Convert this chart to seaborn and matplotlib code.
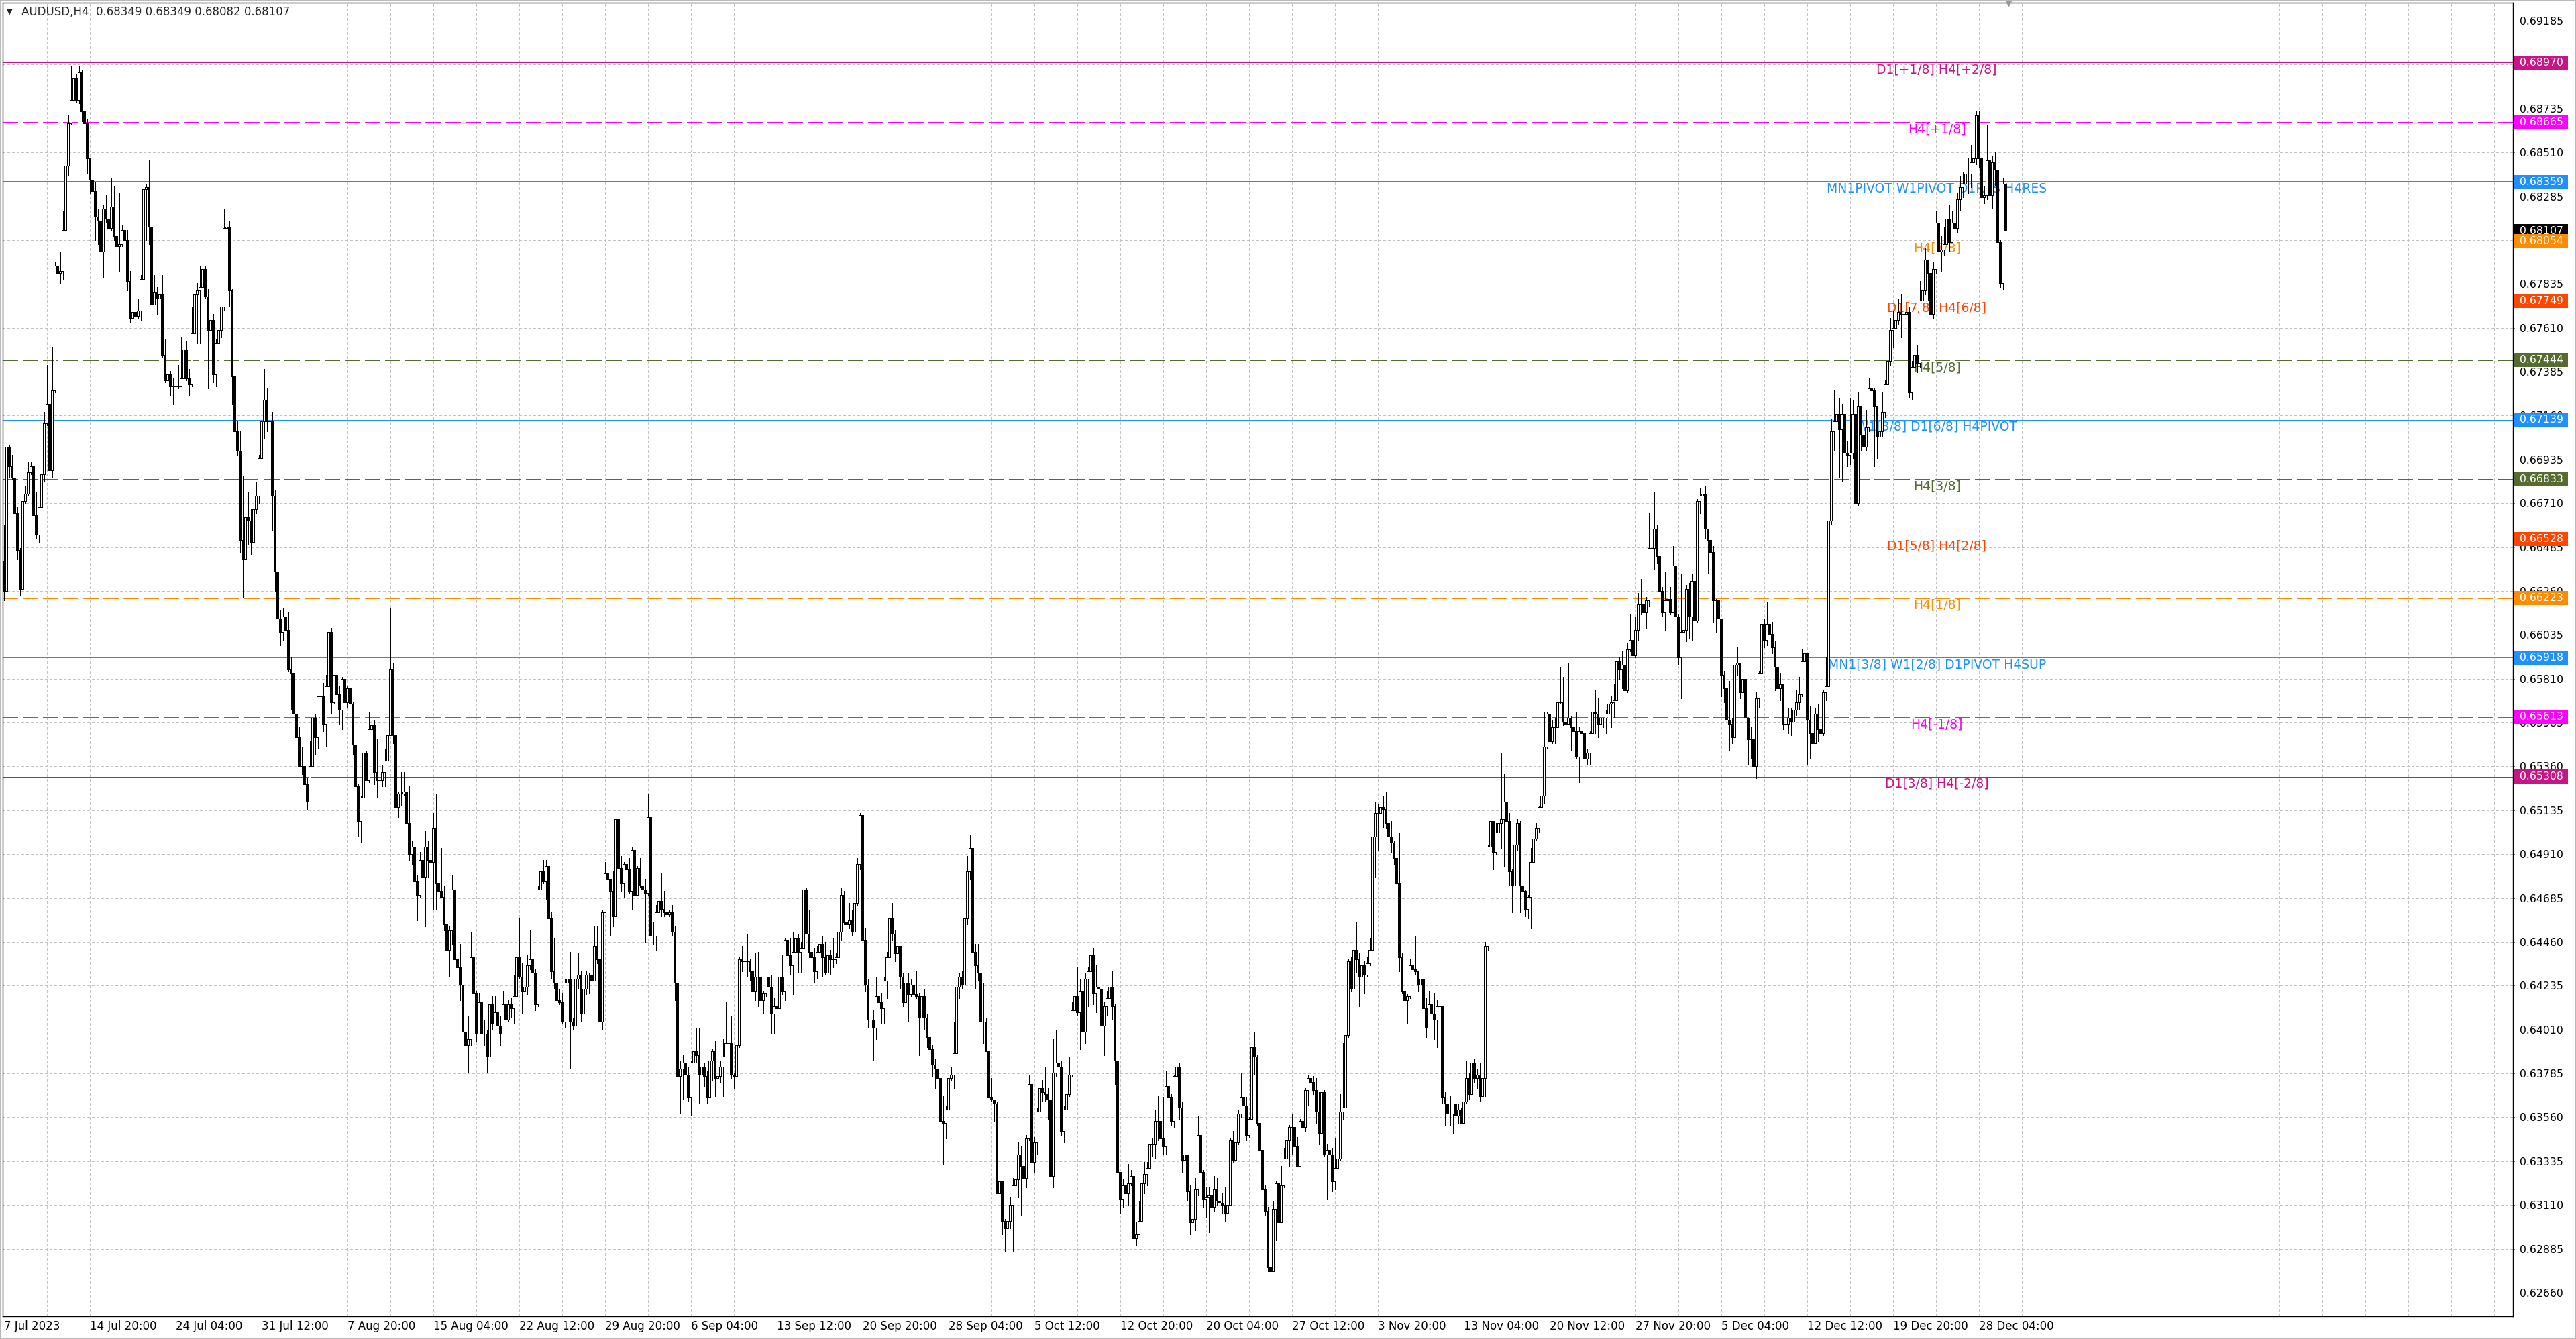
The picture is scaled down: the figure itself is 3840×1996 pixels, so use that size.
import matplotlib
matplotlib.use("Agg")
import matplotlib.pyplot as plt
import matplotlib.transforms as mtransforms
from matplotlib.patches import Rectangle
import numpy as np
import seaborn as sns

SYMBOL = "AUDUSD"
TIMEFRAME = "H4"
LAST_OHLC = [0.68349, 0.68349, 0.68082, 0.68107]
BID = 0.68107

# H4 candles, in pips (1e-4). Each bar opens at the previous close.
FIRST_OPEN = 6641
CLOSE = [
    6626, 6700, 6690, 6684, 6666, 6647, 6627, 6672, 6676, 6687, 6690, 6665, 6655, 6669, 6686, 6712, 6722, 6688, 6729, 6793,
    6789, 6790, 6811, 6844, 6866, 6878, 6889, 6878, 6892, 6872, 6866, 6848, 6837, 6831, 6818, 6816, 6800, 6822, 6817, 6812,
    6823, 6808, 6803, 6804, 6811, 6806, 6785, 6766, 6769, 6767, 6770, 6786, 6832, 6833, 6813, 6773, 6779, 6776, 6778, 6747,
    6734, 6737, 6731, 6731, 6731, 6731, 6735, 6750, 6735, 6732, 6758, 6778, 6780, 6782, 6791, 6777, 6760, 6765, 6737, 6753,
    6760, 6772, 6812, 6813, 6780, 6736, 6708, 6698, 6652, 6642, 6664, 6662, 6651, 6668, 6675, 6694, 6713, 6724, 6713, 6713,
    6675, 6636, 6612, 6605, 6613, 6606, 6586, 6584, 6563, 6551, 6536, 6536, 6527, 6518, 6536, 6561, 6551, 6572, 6572, 6558,
    6577, 6605, 6569, 6583, 6573, 6565, 6581, 6569, 6576, 6568, 6547, 6526, 6508, 6520, 6543, 6529, 6555, 6557, 6533, 6529,
    6529, 6533, 6539, 6552, 6586, 6552, 6515, 6522, 6522, 6523, 6507, 6491, 6495, 6477, 6470, 6488, 6479, 6495, 6488, 6487,
    6504, 6476, 6472, 6469, 6455, 6442, 6452, 6473, 6437, 6433, 6424, 6400, 6393, 6396, 6438, 6420, 6399, 6415, 6399, 6399,
    6387, 6414, 6404, 6410, 6403, 6399, 6414, 6406, 6414, 6412, 6418, 6438, 6428, 6421, 6423, 6434, 6437, 6430, 6414, 6473,
    6482, 6477, 6485, 6458, 6431, 6425, 6416, 6415, 6405, 6425, 6427, 6405, 6403, 6427, 6429, 6409, 6422, 6429, 6429, 6426,
    6444, 6437, 6405, 6461, 6481, 6478, 6472, 6459, 6509, 6484, 6476, 6486, 6483, 6472, 6493, 6470, 6484, 6475, 6473, 6471,
    6510, 6449, 6449, 6461, 6467, 6463, 6461, 6460, 6461, 6451, 6425, 6377, 6381, 6384, 6378, 6366, 6384, 6390, 6388, 6378,
    6382, 6377, 6366, 6385, 6390, 6376, 6377, 6382, 6387, 6394, 6394, 6378, 6377, 6393, 6437, 6436, 6436, 6436, 6431, 6421,
    6428, 6428, 6416, 6420, 6428, 6423, 6409, 6413, 6412, 6428, 6421, 6447, 6439, 6434, 6441, 6448, 6441, 6443, 6473, 6450,
    6441, 6438, 6431, 6441, 6445, 6438, 6430, 6439, 6437, 6437, 6438, 6451, 6470, 6456, 6455, 6457, 6451, 6466, 6486, 6511,
    6447, 6424, 6406, 6406, 6402, 6418, 6415, 6412, 6426, 6438, 6458, 6450, 6440, 6444, 6428, 6415, 6425, 6419, 6424, 6419,
    6418, 6407, 6418, 6407, 6397, 6391, 6383, 6381, 6376, 6354, 6353, 6360, 6376, 6378, 6389, 6423, 6428, 6424, 6458, 6482,
    6494, 6441, 6434, 6430, 6405, 6405, 6390, 6366, 6365, 6363, 6317, 6323, 6303, 6299, 6303, 6311, 6321, 6324, 6337, 6331,
    6325, 6345, 6373, 6333, 6343, 6359, 6371, 6369, 6368, 6365, 6326, 6379, 6384, 6382, 6349, 6360, 6368, 6378, 6411, 6418,
    6410, 6421, 6400, 6427, 6431, 6439, 6420, 6423, 6422, 6403, 6413, 6417, 6423, 6413, 6385, 6328, 6314, 6321, 6317, 6322,
    6326, 6294, 6296, 6303, 6322, 6327, 6330, 6342, 6342, 6354, 6354, 6345, 6341, 6372, 6366, 6354, 6377, 6382, 6361, 6334,
    6337, 6318, 6302, 6304, 6319, 6347, 6328, 6314, 6315, 6316, 6310, 6319, 6313, 6312, 6311, 6307, 6311, 6344, 6334, 6343,
    6358, 6366, 6362, 6347, 6355, 6392, 6387, 6353, 6339, 6319, 6308, 6279, 6277, 6309, 6322, 6302, 6321, 6335, 6344, 6351,
    6351, 6341, 6331, 6354, 6351, 6370, 6376, 6374, 6370, 6359, 6348, 6369, 6337, 6339, 6337, 6323, 6330, 6335, 6359, 6361,
    6398, 6436, 6422, 6442, 6437, 6428, 6434, 6429, 6435, 6442, 6500, 6512, 6512, 6515, 6514, 6507, 6500, 6497, 6489, 6476,
    6438, 6421, 6416, 6418, 6434, 6432, 6431, 6424, 6427, 6412, 6402, 6414, 6409, 6406, 6413, 6413, 6366, 6363, 6358, 6358,
    6363, 6357, 6360, 6353, 6364, 6376, 6368, 6384, 6376, 6378, 6367, 6376, 6444, 6495, 6508, 6492, 6502, 6507, 6509, 6518,
    6508, 6482, 6475, 6496, 6507, 6475, 6472, 6463, 6469, 6487, 6499, 6504, 6515, 6521, 6546, 6563, 6549, 6556, 6556, 6569,
    6569, 6559, 6558, 6561, 6556, 6554, 6541, 6554, 6553, 6540, 6543, 6553, 6564, 6563, 6558, 6561, 6561, 6563, 6568, 6569,
    6570, 6590, 6586, 6588, 6575, 6596, 6601, 6593, 6606, 6619, 6619, 6615, 6621, 6648, 6648, 6658, 6644, 6626, 6615, 6621,
    6622, 6615, 6639, 6613, 6592, 6605, 6606, 6627, 6613, 6631, 6611, 6672, 6675, 6676, 6658, 6652, 6646, 6621, 6621, 6612,
    6583, 6576, 6560, 6558, 6551, 6588, 6589, 6574, 6581, 6561, 6550, 6550, 6536, 6571, 6584, 6609, 6601, 6609, 6604, 6597,
    6587, 6576, 6578, 6558, 6558, 6561, 6559, 6565, 6569, 6573, 6590, 6594, 6560, 6553, 6548, 6563, 6555, 6553, 6574, 6577,
    6662, 6708, 6713, 6717, 6709, 6717, 6697, 6696, 6697, 6717, 6671, 6721, 6706, 6700, 6710, 6730, 6729, 6721, 6705, 6708,
    6718, 6732, 6744, 6760, 6761, 6765, 6769, 6768, 6768, 6769, 6728, 6741, 6747, 6743, 6775, 6780, 6796, 6789, 6768, 6791,
    6815, 6800, 6801, 6804, 6817, 6805, 6815, 6812, 6827, 6833, 6835, 6840, 6840, 6846, 6848, 6870, 6848, 6828, 6829, 6847,
    6829, 6846, 6842, 6805, 6784, 6835, 6811,
]
HIGH = [
    6660, 6701, 6701, 6696, 6695, 6669, 6648, 6672, 6680, 6692, 6692, 6695, 6677, 6669, 6688, 6718, 6742, 6724, 6751, 6795,
    6800, 6800, 6821, 6851, 6870, 6895, 6894, 6891, 6895, 6893, 6880, 6868, 6848, 6838, 6836, 6822, 6818, 6824, 6829, 6820,
    6838, 6834, 6815, 6830, 6814, 6821, 6811, 6790, 6776, 6788, 6776, 6788, 6840, 6835, 6847, 6818, 6788, 6782, 6784, 6788,
    6755, 6745, 6739, 6735, 6743, 6742, 6756, 6752, 6754, 6740, 6772, 6779, 6784, 6793, 6795, 6793, 6781, 6768, 6768, 6755,
    6784, 6772, 6822, 6819, 6816, 6781, 6750, 6713, 6708, 6685, 6685, 6677, 6668, 6669, 6682, 6696, 6718, 6740, 6730, 6723,
    6718, 6678, 6637, 6616, 6617, 6615, 6615, 6592, 6592, 6567, 6556, 6546, 6556, 6530, 6549, 6568, 6563, 6572, 6588, 6579,
    6583, 6610, 6607, 6583, 6589, 6577, 6582, 6587, 6577, 6576, 6569, 6548, 6527, 6521, 6544, 6544, 6564, 6571, 6560, 6550,
    6542, 6537, 6545, 6563, 6617, 6589, 6552, 6523, 6533, 6533, 6532, 6526, 6498, 6499, 6480, 6492, 6503, 6503, 6498, 6492,
    6512, 6522, 6484, 6494, 6475, 6460, 6454, 6480, 6475, 6469, 6445, 6424, 6405, 6408, 6451, 6448, 6421, 6420, 6429, 6406,
    6401, 6416, 6418, 6418, 6415, 6408, 6421, 6420, 6416, 6417, 6429, 6448, 6458, 6435, 6426, 6439, 6452, 6443, 6432, 6475,
    6482, 6488, 6488, 6488, 6461, 6448, 6426, 6422, 6420, 6427, 6432, 6441, 6407, 6430, 6440, 6431, 6425, 6431, 6430, 6434,
    6454, 6454, 6455, 6462, 6487, 6483, 6478, 6482, 6518, 6522, 6490, 6487, 6508, 6489, 6495, 6495, 6485, 6489, 6500, 6478,
    6522, 6512, 6456, 6465, 6475, 6481, 6472, 6466, 6462, 6465, 6454, 6429, 6385, 6388, 6385, 6382, 6385, 6405, 6402, 6402,
    6386, 6384, 6380, 6393, 6391, 6395, 6385, 6385, 6396, 6415, 6408, 6408, 6379, 6402, 6438, 6444, 6437, 6450, 6437, 6434,
    6440, 6441, 6429, 6421, 6428, 6433, 6429, 6417, 6419, 6435, 6439, 6448, 6455, 6448, 6451, 6460, 6450, 6446, 6474, 6474,
    6462, 6458, 6443, 6444, 6448, 6449, 6446, 6446, 6442, 6448, 6440, 6459, 6474, 6472, 6460, 6466, 6462, 6467, 6489, 6512,
    6512, 6453, 6427, 6423, 6411, 6428, 6433, 6420, 6428, 6441, 6462, 6466, 6452, 6447, 6444, 6430, 6436, 6430, 6427, 6424,
    6431, 6420, 6419, 6422, 6409, 6403, 6393, 6386, 6382, 6388, 6367, 6362, 6376, 6382, 6405, 6433, 6430, 6431, 6461, 6490,
    6501, 6495, 6445, 6445, 6436, 6425, 6407, 6391, 6376, 6364, 6364, 6332, 6323, 6304, 6318, 6315, 6325, 6327, 6343, 6341,
    6328, 6347, 6378, 6373, 6346, 6361, 6374, 6375, 6382, 6371, 6370, 6396, 6401, 6385, 6385, 6362, 6369, 6387, 6415, 6428,
    6433, 6427, 6429, 6430, 6433, 6446, 6443, 6434, 6426, 6426, 6415, 6421, 6427, 6431, 6414, 6388, 6328, 6324, 6326, 6332,
    6329, 6326, 6302, 6313, 6327, 6333, 6333, 6344, 6345, 6360, 6367, 6358, 6366, 6380, 6372, 6368, 6378, 6393, 6384, 6364,
    6339, 6337, 6321, 6311, 6325, 6357, 6357, 6329, 6320, 6320, 6318, 6326, 6325, 6321, 6317, 6320, 6321, 6345, 6349, 6344,
    6360, 6379, 6366, 6366, 6356, 6393, 6400, 6388, 6354, 6340, 6321, 6310, 6280, 6313, 6323, 6329, 6331, 6340, 6345, 6352,
    6358, 6368, 6346, 6355, 6360, 6371, 6378, 6384, 6377, 6376, 6369, 6374, 6370, 6342, 6345, 6340, 6345, 6349, 6368, 6394,
    6399, 6437, 6438, 6446, 6456, 6440, 6435, 6436, 6438, 6448, 6508, 6518, 6517, 6521, 6521, 6523, 6511, 6508, 6498, 6488,
    6502, 6440, 6427, 6419, 6437, 6435, 6449, 6431, 6434, 6435, 6417, 6421, 6417, 6420, 6416, 6429, 6413, 6369, 6364, 6367,
    6363, 6363, 6363, 6361, 6365, 6385, 6379, 6392, 6386, 6381, 6384, 6378, 6446, 6496, 6513, 6507, 6507, 6516, 6543, 6532,
    6519, 6512, 6483, 6498, 6509, 6508, 6476, 6473, 6470, 6494, 6513, 6507, 6516, 6527, 6564, 6564, 6563, 6560, 6561, 6578,
    6587, 6582, 6588, 6589, 6562, 6569, 6564, 6556, 6558, 6556, 6545, 6554, 6564, 6575, 6571, 6564, 6561, 6565, 6569, 6572,
    6578, 6590, 6592, 6595, 6589, 6599, 6614, 6602, 6613, 6625, 6632, 6621, 6623, 6666, 6655, 6677, 6660, 6646, 6628, 6636,
    6635, 6628, 6649, 6650, 6614, 6635, 6614, 6629, 6630, 6635, 6634, 6673, 6679, 6690, 6680, 6657, 6657, 6649, 6622, 6622,
    6612, 6585, 6579, 6580, 6561, 6590, 6597, 6588, 6588, 6588, 6561, 6556, 6552, 6574, 6585, 6620, 6612, 6620, 6614, 6610,
    6600, 6588, 6584, 6578, 6565, 6566, 6566, 6567, 6575, 6582, 6596, 6611, 6594, 6567, 6565, 6566, 6568, 6559, 6575, 6592,
    6673, 6714, 6729, 6728, 6725, 6722, 6718, 6703, 6725, 6724, 6727, 6728, 6721, 6712, 6719, 6735, 6734, 6730, 6713, 6719,
    6728, 6734, 6747, 6766, 6770, 6776, 6776, 6778, 6777, 6780, 6772, 6744, 6752, 6752, 6785, 6795, 6802, 6796, 6793, 6795,
    6821, 6823, 6808, 6813, 6822, 6824, 6821, 6818, 6830, 6839, 6841, 6850, 6848, 6855, 6853, 6872, 6872, 6854, 6834, 6865,
    6847, 6849, 6851, 6842, 6806, 6838, 6835,
]
LOW = [
    6621, 6624, 6684, 6683, 6662, 6642, 6624, 6625, 6671, 6675, 6686, 6665, 6653, 6651, 6668, 6682, 6711, 6687, 6684, 6728,
    6785, 6784, 6786, 6805, 6839, 6865, 6875, 6877, 6876, 6867, 6862, 6840, 6830, 6830, 6806, 6804, 6794, 6787, 6815, 6807,
    6811, 6806, 6789, 6790, 6803, 6803, 6780, 6764, 6756, 6750, 6766, 6765, 6784, 6806, 6804, 6771, 6773, 6768, 6775, 6746,
    6733, 6722, 6726, 6722, 6715, 6730, 6731, 6723, 6734, 6726, 6731, 6757, 6753, 6753, 6781, 6776, 6730, 6759, 6733, 6731,
    6736, 6756, 6770, 6811, 6772, 6722, 6698, 6696, 6646, 6623, 6641, 6650, 6645, 6648, 6666, 6671, 6693, 6704, 6708, 6711,
    6657, 6626, 6607, 6598, 6601, 6600, 6585, 6565, 6562, 6527, 6536, 6532, 6526, 6514, 6518, 6525, 6542, 6545, 6559, 6554,
    6546, 6574, 6563, 6568, 6571, 6558, 6555, 6560, 6566, 6568, 6542, 6517, 6500, 6497, 6520, 6529, 6528, 6552, 6527, 6520,
    6528, 6526, 6526, 6537, 6552, 6548, 6513, 6510, 6516, 6521, 6506, 6488, 6486, 6477, 6457, 6469, 6472, 6454, 6479, 6480,
    6463, 6463, 6456, 6469, 6452, 6440, 6428, 6445, 6436, 6432, 6416, 6400, 6365, 6379, 6393, 6408, 6395, 6399, 6398, 6393,
    6379, 6387, 6401, 6405, 6393, 6393, 6399, 6387, 6405, 6407, 6404, 6412, 6427, 6409, 6416, 6419, 6432, 6430, 6411, 6413,
    6467, 6476, 6468, 6456, 6427, 6422, 6413, 6414, 6404, 6402, 6418, 6381, 6401, 6403, 6422, 6405, 6402, 6419, 6420, 6423,
    6426, 6435, 6402, 6401, 6461, 6474, 6449, 6454, 6457, 6480, 6472, 6469, 6480, 6471, 6463, 6461, 6470, 6474, 6464, 6446,
    6470, 6439, 6445, 6442, 6453, 6459, 6459, 6452, 6459, 6449, 6416, 6371, 6358, 6365, 6376, 6364, 6357, 6379, 6384, 6363,
    6377, 6372, 6363, 6365, 6375, 6367, 6375, 6374, 6367, 6387, 6390, 6376, 6371, 6375, 6392, 6431, 6423, 6428, 6426, 6419,
    6416, 6413, 6413, 6409, 6418, 6422, 6399, 6399, 6380, 6405, 6419, 6416, 6434, 6429, 6419, 6431, 6430, 6430, 6438, 6450,
    6438, 6432, 6425, 6427, 6439, 6428, 6429, 6417, 6429, 6433, 6435, 6428, 6447, 6455, 6453, 6453, 6449, 6449, 6465, 6483,
    6439, 6421, 6402, 6402, 6385, 6396, 6412, 6404, 6404, 6417, 6436, 6447, 6436, 6436, 6422, 6413, 6414, 6405, 6418, 6415,
    6417, 6388, 6406, 6401, 6392, 6388, 6377, 6371, 6362, 6354, 6332, 6345, 6359, 6375, 6371, 6388, 6417, 6422, 6423, 6455,
    6478, 6439, 6422, 6426, 6404, 6394, 6390, 6364, 6364, 6354, 6317, 6317, 6296, 6287, 6286, 6299, 6287, 6302, 6315, 6306,
    6319, 6320, 6344, 6331, 6328, 6337, 6358, 6364, 6364, 6355, 6312, 6320, 6377, 6345, 6347, 6343, 6357, 6367, 6377, 6408,
    6408, 6391, 6391, 6394, 6413, 6430, 6414, 6410, 6401, 6398, 6388, 6408, 6417, 6406, 6373, 6328, 6307, 6310, 6315, 6311,
    6321, 6287, 6290, 6298, 6302, 6317, 6321, 6312, 6336, 6335, 6344, 6341, 6337, 6337, 6354, 6352, 6351, 6377, 6355, 6328,
    6333, 6313, 6296, 6297, 6298, 6316, 6326, 6310, 6305, 6297, 6300, 6308, 6311, 6307, 6307, 6303, 6289, 6311, 6333, 6331,
    6342, 6356, 6353, 6344, 6346, 6355, 6378, 6352, 6328, 6317, 6306, 6277, 6270, 6277, 6293, 6302, 6302, 6320, 6324, 6331,
    6337, 6332, 6331, 6332, 6350, 6349, 6362, 6362, 6368, 6353, 6342, 6347, 6336, 6314, 6318, 6318, 6319, 6329, 6334, 6355,
    6354, 6397, 6421, 6422, 6430, 6413, 6426, 6420, 6428, 6434, 6441, 6479, 6493, 6504, 6505, 6504, 6496, 6492, 6486, 6472,
    6431, 6420, 6409, 6404, 6417, 6423, 6429, 6421, 6419, 6407, 6397, 6402, 6399, 6396, 6392, 6411, 6363, 6352, 6354, 6352,
    6348, 6339, 6353, 6353, 6357, 6363, 6365, 6368, 6374, 6371, 6364, 6361, 6367, 6442, 6495, 6483, 6491, 6493, 6494, 6485,
    6504, 6475, 6461, 6467, 6493, 6461, 6459, 6459, 6458, 6453, 6486, 6498, 6502, 6507, 6517, 6545, 6535, 6548, 6548, 6553,
    6568, 6557, 6556, 6560, 6544, 6553, 6540, 6528, 6552, 6522, 6537, 6537, 6547, 6553, 6551, 6553, 6556, 6553, 6550, 6556,
    6561, 6570, 6581, 6576, 6567, 6574, 6595, 6587, 6592, 6601, 6614, 6596, 6607, 6618, 6632, 6637, 6640, 6621, 6613, 6606,
    6612, 6614, 6615, 6611, 6588, 6571, 6603, 6600, 6602, 6601, 6607, 6610, 6666, 6665, 6653, 6635, 6639, 6610, 6605, 6607,
    6572, 6569, 6557, 6544, 6548, 6548, 6583, 6571, 6565, 6559, 6537, 6540, 6526, 6530, 6566, 6582, 6597, 6598, 6599, 6594,
    6575, 6562, 6570, 6555, 6553, 6553, 6552, 6553, 6562, 6565, 6572, 6588, 6537, 6540, 6540, 6548, 6549, 6540, 6552, 6570,
    6575, 6660, 6698, 6706, 6684, 6682, 6688, 6690, 6691, 6694, 6663, 6670, 6698, 6693, 6698, 6708, 6712, 6690, 6694, 6700,
    6705, 6715, 6728, 6742, 6751, 6749, 6763, 6756, 6758, 6756, 6725, 6724, 6738, 6738, 6741, 6769, 6778, 6775, 6764, 6766,
    6789, 6795, 6790, 6798, 6800, 6800, 6805, 6806, 6810, 6821, 6828, 6831, 6830, 6833, 6838, 6845, 6843, 6826, 6825, 6827,
    6825, 6822, 6834, 6804, 6782, 6781, 6808,
]

# Murrey-math / pivot levels drawn by the indicator
LEVEL_PRICE = [0.68970, 0.68665, 0.68359, 0.68054, 0.67749, 0.67444, 0.67139,
               0.66833, 0.66528, 0.66223, 0.65918, 0.65613, 0.65308]
LEVEL_TEXT = ["D1[+1/8] H4[+2/8]", "H4[+1/8]", "MN1PIVOT W1PIVOT D1RES H4RES", "H4[7/8]",
              "D1[7/8] H4[6/8]", "H4[5/8]", "W1[3/8] D1[6/8] H4PIVOT", "H4[3/8]",
              "D1[5/8] H4[2/8]", "H4[1/8]", "MN1[3/8] W1[2/8] D1PIVOT H4SUP", "H4[-1/8]",
              "D1[3/8] H4[-2/8]"]
LEVEL_COLOR = ["#C71585", "#FF00FF", "#1E90FF", "#FF8C00", "#FF4500", "#556B2F", "#1E90FF",
               "#556B2F", "#FF4500", "#FF8C00", "#1E90FF", "#FF00FF", "#C71585"]
LEVEL_DASHED = [False, True, False, True, False, True, False, True, False, True, False, True, False]
LEVEL_WIDE = [False, False, True, False, False, False, False, False, False, False, True, False, False]

PRICE_TICKS = [0.62660, 0.62885, 0.63110, 0.63335, 0.63560, 0.63785, 0.64010, 0.64235, 0.64460,
               0.64685, 0.64910, 0.65135, 0.65360, 0.65585, 0.65810, 0.66035, 0.66260, 0.66485,
               0.66710, 0.66935, 0.67160, 0.67385, 0.67610, 0.67835, 0.68060, 0.68285, 0.68510,
               0.68735, 0.68960, 0.69185]
DATE_LABELS = ["7 Jul 2023", "14 Jul 20:00", "24 Jul 04:00", "31 Jul 12:00", "7 Aug 20:00",
               "15 Aug 04:00", "22 Aug 12:00", "29 Aug 20:00", "6 Sep 04:00", "13 Sep 12:00",
               "20 Sep 20:00", "28 Sep 04:00", "5 Oct 12:00", "12 Oct 20:00", "20 Oct 04:00",
               "27 Oct 12:00", "3 Nov 20:00", "13 Nov 04:00", "20 Nov 12:00", "27 Nov 20:00",
               "5 Dec 04:00", "12 Dec 12:00", "19 Dec 20:00", "28 Dec 04:00"]
BARS_PER_LABEL = 32

W, H, DPI = 3840, 1996, 100
PX = 72.0 / DPI  # one pixel in points

sns.set_style("white")
plt.rcParams["font.family"] = ["DejaVu Sans"]

fig = plt.figure(figsize=(W / DPI, H / DPI), dpi=DPI)
left_px, right_px, top_px, bottom_px = 3.5, 3746, 4, 1962
ax = fig.add_axes([left_px / W, (H - bottom_px) / H,
                   (right_px - left_px) / W, (bottom_px - top_px) / H])

n = min(len(CLOSE), len(HIGH), len(LOW))
c = np.array(CLOSE[:n], dtype=float) / 1e4
hi = np.array(HIGH[:n], dtype=float) / 1e4
lo = np.array(LOW[:n], dtype=float) / 1e4
o = np.r_[FIRST_OPEN / 1e4, c[:-1]]
hi = np.maximum(hi, np.maximum(o, c))
lo = np.minimum(lo, np.minimum(o, c))
x = np.arange(n)

y_top, y_bot = 0.692779, 0.625396
ax.set_xlim(-0.5, 935.1)
ax.set_ylim(y_bot, y_top)

grid_kw = dict(color="#C3C3C3", lw=PX, ls=(0, (3, 3)), zorder=0.5, antialiased=False)
for gx in range(16, 936, 16):
    ax.axvline(gx, **grid_kw)
for p in PRICE_TICKS:
    ax.axhline(p, **grid_kw)

# levels
ax.axhline(BID, color="#C0C0C0", lw=PX, zorder=1.4, antialiased=False)
for p, col, dashed, wide, txt in zip(LEVEL_PRICE, LEVEL_COLOR, LEVEL_DASHED, LEVEL_WIDE, LEVEL_TEXT):
    ax.axhline(p, color=col, lw=(2 if wide else 1) * PX,
               ls=(0, (22, 7)) if dashed else "-", zorder=1.5, antialiased=False)
    ax.text(720.4, p - 0.00037, txt, color=col, fontsize=13.5, ha="center", va="center", zorder=2)

# candles
ax.vlines(x, lo, hi, color="black", lw=PX, zorder=3, antialiased=False)
up = c >= o
ax.bar(x, np.abs(c - o), bottom=np.minimum(o, c), width=0.58,
       color=np.where(up, "white", "black"), edgecolor="black", linewidth=PX,
       zorder=3.1, antialiased=False)

# axes frame and ticks
for s in ax.spines.values():
    s.set_color("black")
    s.set_linewidth(1.0)
ax.yaxis.tick_right()
ax.set_yticks(PRICE_TICKS)
ax.set_yticklabels([f"{p:.5f}" for p in PRICE_TICKS])
ax.tick_params(axis="y", direction="out", length=2 * PX, width=PX, pad=8 * PX,
               labelsize=11.3, colors="black")
ax.set_xticks([i * BARS_PER_LABEL for i in range(len(DATE_LABELS))])
ax.set_xticklabels(DATE_LABELS)
for lab in ax.get_xticklabels():
    lab.set_horizontalalignment("left")
ax.tick_params(axis="x", direction="out", length=3 * PX, width=PX, pad=3 * PX,
               labelsize=12, colors="black")

# price boxes on the right scale
blend = mtransforms.blended_transform_factory(ax.transAxes, ax.transData)
ax_w = right_px - left_px
bx0 = (3748 - left_px) / ax_w
bw = 80 / ax_w
tx = (3756 - left_px) / ax_w
bh = 21 / 29058.0


def price_box(price, face):
    ax.add_patch(Rectangle((bx0, price - bh / 2), bw, bh, transform=blend,
                           facecolor=face, edgecolor="none", clip_on=False, zorder=10))
    ax.text(tx, price, f"{price:.5f}", transform=blend, color="white", fontsize=11.3,
            ha="left", va="center", clip_on=False, zorder=11)


price_box(BID, "black")
for p, col in zip(LEVEL_PRICE, LEVEL_COLOR):
    price_box(p, col)

# header
fig.text(14 / W, 1 - 18 / H, "\u25BC", fontsize=8, ha="center", va="center")
header = f"{SYMBOL},{TIMEFRAME}  " + " ".join(f"{v:.5f}" for v in LAST_OHLC)
fig.text(32 / W, 1 - 18 / H, header, fontsize=12, ha="left", va="center")

# chart shift marker
ax.plot([747], [y_top], marker="v", ms=7, color="#9A9A9A", clip_on=False, zorder=12)

# window border
fig.add_artist(Rectangle((0, 0), 1, 1, transform=fig.transFigure, fill=False,
                         edgecolor="#B9B9B9", lw=3 * PX))

fig.savefig("out.png", dpi=DPI)
